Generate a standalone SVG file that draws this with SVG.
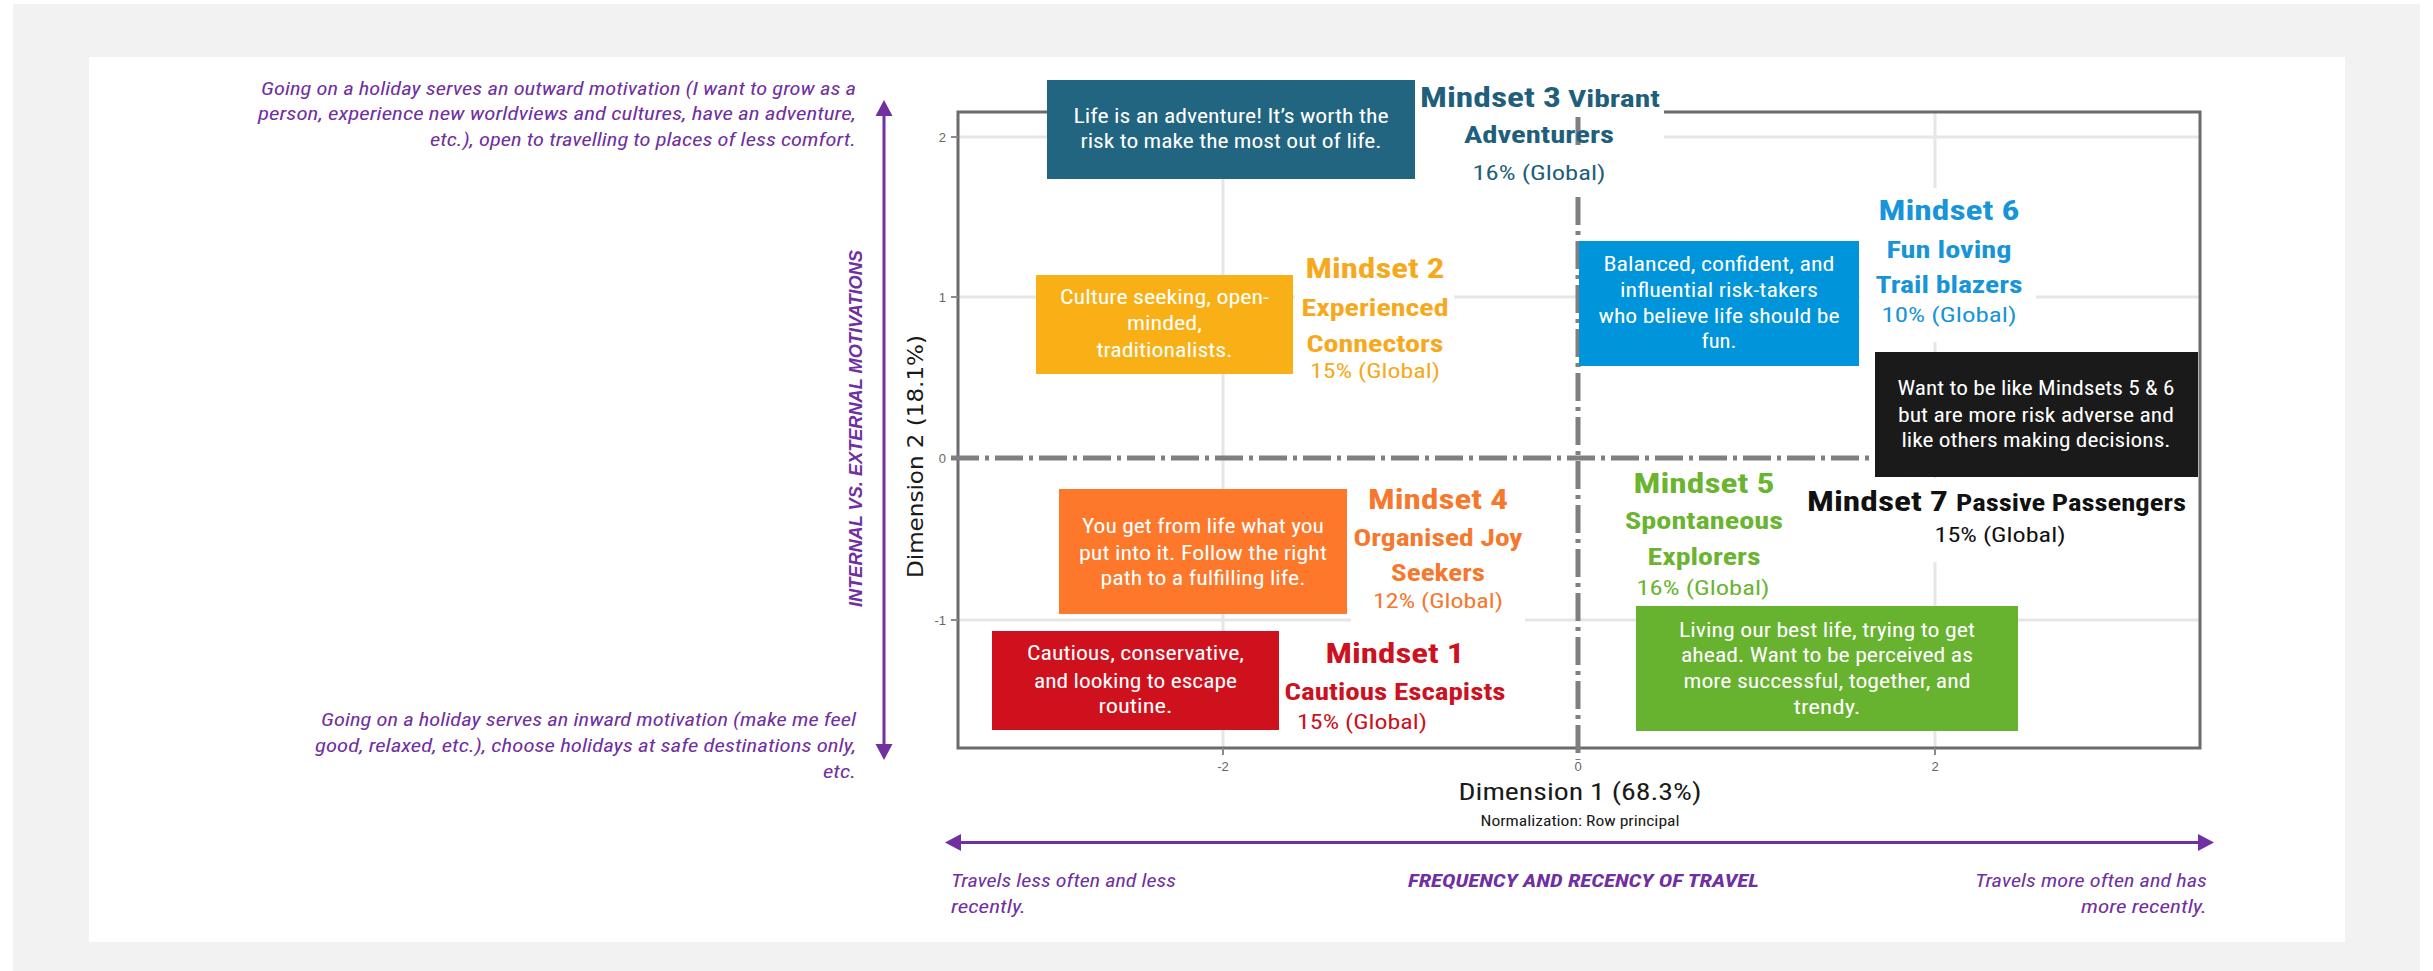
<svg xmlns="http://www.w3.org/2000/svg" width="2433" height="971" viewBox="0 0 2433 971">
<style>
.cond{font-family:"Liberation Sans Narrow","Roboto Condensed","Open Sans","Liberation Sans",sans-serif;}
.box{font-size:20px;fill:#ffffff;text-anchor:middle;}
.big{font-size:27px;font-weight:bold;}
.sub{font-size:23px;font-weight:bold;}
.pct{font-size:20px;}
.mid{text-anchor:middle;}
.purp{fill:#7030a0;font-size:18.5px;font-style:italic;}
.purpb{fill:#7030a0;font-size:19px;font-style:italic;font-weight:bold;}
.grid{stroke:#e6e6e6;stroke-width:3;fill:none;}
.axis{stroke:#7f7f7f;stroke-width:5;fill:none;stroke-dasharray:28 6 4 6;}
.tick{font-family:"Liberation Sans",sans-serif;font-size:13px;fill:#666666;}
.arr{stroke:#7030a0;stroke-width:3;fill:none;marker-start:url(#ah);marker-end:url(#ah);}
.bg{fill:#ffffff;}
</style>
<defs>
<marker id="ah" viewBox="0 -9 16 18" refX="0" refY="0" markerWidth="16" markerHeight="18" markerUnits="userSpaceOnUse" orient="auto-start-reverse">
<path d="M0,-8.5 L16,0 L0,8.5 z" fill="#7030a0"/>
</marker>
</defs>
<rect x="0" y="0" width="2433" height="971" fill="#ffffff"/>
<rect x="13" y="4" width="2407" height="967" fill="#f2f2f2"/>
<rect x="89" y="57" width="2256" height="885" fill="#ffffff"/>

<g id="plot">
<line class="grid" x1="958" y1="137" x2="2200" y2="137"/>
<line class="grid" x1="958" y1="297" x2="2200" y2="297"/>
<line class="grid" x1="958" y1="620" x2="2200" y2="620"/>
<line class="grid" x1="1223" y1="112" x2="1223" y2="748"/>
<line class="grid" x1="1935" y1="112" x2="1935" y2="748"/>
<rect x="958" y="112" width="1242" height="636" fill="none" stroke="#6b6b6b" stroke-width="3"/>
<g stroke="#8a8a8a" stroke-width="2">
<line x1="951" y1="137" x2="958" y2="137"/><line x1="951" y1="297" x2="958" y2="297"/><line x1="951" y1="620" x2="958" y2="620"/>
<line x1="1223" y1="748" x2="1223" y2="755"/><line x1="1935" y1="748" x2="1935" y2="755"/>
</g>
<text class="tick" x="946" y="142" text-anchor="end">2</text>
<text class="tick" x="946" y="302" text-anchor="end">1</text>
<text class="tick" x="946" y="463" text-anchor="end">0</text>
<text class="tick" x="946" y="625" text-anchor="end">-1</text>
<text class="tick" x="1223" y="771" text-anchor="middle">-2</text>
<text class="tick" x="1578" y="771" text-anchor="middle">0</text>
<text class="tick" x="1935" y="771" text-anchor="middle">2</text>
<text font-family="DejaVu Sans,sans-serif" font-size="22" fill="#1a1a1a" transform="translate(923,578) rotate(-90)" textLength="243" lengthAdjust="spacingAndGlyphs">Dimension 2 (18.1%)</text>
<text class="cond mid" font-size="24" fill="#1a1a1a" x="1580" y="800" textLength="243" lengthAdjust="spacingAndGlyphs">Dimension 1 (68.3%)</text>
<text class="cond mid" font-size="15" fill="#1a1a1a" x="1580" y="826" textLength="199" lengthAdjust="spacingAndGlyphs">Normalization: Row principal</text>
</g>

<!-- label backgrounds -->
<rect class="bg" x="1415" y="80" width="249" height="107"/>
<rect class="bg" x="1295" y="255" width="159" height="130"/>
<rect class="bg" x="1860" y="188" width="176" height="154"/>
<rect class="bg" x="1800" y="478" width="390" height="84"/>
<rect class="bg" x="1585" y="464" width="230" height="140"/>
<rect class="bg" x="1351" y="485" width="174" height="138"/>

<g id="connectors">
<line class="axis" x1="951" y1="458" x2="2198" y2="458"/>
<line class="axis" x1="1578" y1="117" x2="1578" y2="150"/>
<line class="axis" x1="1578" y1="197" x2="1578" y2="760"/>
<line class="arr" x1="884" y1="744" x2="884" y2="116"/>
<line class="arr" x1="961" y1="842.5" x2="2198" y2="842.5"/>
</g>

<g id="axis-labels" class="cond">
<text class="purp" text-anchor="end" x="856" y="95" textLength="595" lengthAdjust="spacingAndGlyphs">Going on a holiday serves an outward motivation (I want to grow as a</text>
<text class="purp" text-anchor="end" x="856" y="120" textLength="598" lengthAdjust="spacingAndGlyphs">person, experience new worldviews and cultures, have an adventure,</text>
<text class="purp" text-anchor="end" x="856" y="146" textLength="426" lengthAdjust="spacingAndGlyphs">etc.), open to travelling to places of less comfort.</text>
<text class="purp" text-anchor="end" x="856" y="726" textLength="535" lengthAdjust="spacingAndGlyphs">Going on a holiday serves an inward motivation (make me feel</text>
<text class="purp" text-anchor="end" x="856" y="752" textLength="541" lengthAdjust="spacingAndGlyphs">good, relaxed, etc.), choose holidays at safe destinations only,</text>
<text class="purp" text-anchor="end" x="856" y="778" textLength="33" lengthAdjust="spacingAndGlyphs">etc.</text>
<text font-family="Liberation Sans,Arial,sans-serif" font-size="18" font-weight="bold" font-style="italic" fill="#7030a0" transform="translate(862,607) rotate(-90)" textLength="357" lengthAdjust="spacingAndGlyphs">INTERNAL VS. EXTERNAL MOTIVATIONS</text>
<text class="purp" x="951" y="887" textLength="225" lengthAdjust="spacingAndGlyphs">Travels less often and less</text>
<text class="purp" x="951" y="913" textLength="75" lengthAdjust="spacingAndGlyphs">recently.</text>
<text class="purpb" x="1408" y="887" textLength="351" lengthAdjust="spacingAndGlyphs">FREQUENCY AND RECENCY OF TRAVEL</text>
<text class="purp" text-anchor="end" x="2207" y="887" textLength="232" lengthAdjust="spacingAndGlyphs">Travels more often and has</text>
<text class="purp" text-anchor="end" x="2207" y="913" textLength="126" lengthAdjust="spacingAndGlyphs">more recently.</text>
</g>

<g id="mindset3" class="cond">
<rect x="1047" y="80" width="368" height="99" fill="#216580"/>
<text class="box" x="1231" y="123" textLength="315" lengthAdjust="spacingAndGlyphs">Life is an adventure! It’s worth the</text>
<text class="box" x="1231" y="148" textLength="301" lengthAdjust="spacingAndGlyphs">risk to make the most out of life.</text>
<g fill="#1f5f7b">
<text class="big" x="1420" y="107" textLength="141" lengthAdjust="spacingAndGlyphs">Mindset 3</text>
<text class="sub" x="1568" y="107" textLength="92" lengthAdjust="spacingAndGlyphs">Vibrant</text>
<text class="sub mid" x="1539" y="143" textLength="150" lengthAdjust="spacingAndGlyphs">Adventurers</text>
<text class="pct mid" x="1539" y="180" textLength="133" lengthAdjust="spacingAndGlyphs">16% (Global)</text>
</g>
</g>

<g id="mindset2" class="cond">
<rect x="1036" y="275" width="257" height="99" fill="#f9b016"/>
<text class="box" x="1164.5" y="304" textLength="209" lengthAdjust="spacingAndGlyphs">Culture seeking, open-</text>
<text class="box" x="1164.5" y="330" textLength="75" lengthAdjust="spacingAndGlyphs">minded,</text>
<text class="box" x="1164.5" y="357" textLength="136" lengthAdjust="spacingAndGlyphs">traditionalists.</text>
<g fill="#f6a91c">
<text class="big mid" x="1375" y="278" textLength="139" lengthAdjust="spacingAndGlyphs">Mindset 2</text>
<text class="sub mid" x="1375" y="316" textLength="147" lengthAdjust="spacingAndGlyphs">Experienced</text>
<text class="sub mid" x="1375" y="352" textLength="137" lengthAdjust="spacingAndGlyphs">Connectors</text>
<text class="pct mid" x="1375" y="378" textLength="130" lengthAdjust="spacingAndGlyphs">15% (Global)</text>
</g>
</g>

<g id="mindset6" class="cond">
<rect x="1579" y="241" width="280" height="125" fill="#0094da"/>
<text class="box" x="1719" y="271" textLength="231" lengthAdjust="spacingAndGlyphs">Balanced, confident, and</text>
<text class="box" x="1719" y="297" textLength="198" lengthAdjust="spacingAndGlyphs">influential risk-takers</text>
<text class="box" x="1719" y="323" textLength="241" lengthAdjust="spacingAndGlyphs">who believe life should be</text>
<text class="box" x="1719" y="348" textLength="35" lengthAdjust="spacingAndGlyphs">fun.</text>
<g fill="#1895d8">
<text class="big mid" x="1949" y="220" textLength="141" lengthAdjust="spacingAndGlyphs">Mindset 6</text>
<text class="sub mid" x="1949" y="258" textLength="125" lengthAdjust="spacingAndGlyphs">Fun loving</text>
<text class="sub mid" x="1949" y="293" textLength="147" lengthAdjust="spacingAndGlyphs">Trail blazers</text>
<text class="pct mid" x="1949" y="322" textLength="135" lengthAdjust="spacingAndGlyphs">10% (Global)</text>
</g>
</g>

<g id="mindset7" class="cond">
<rect x="1875" y="352" width="323" height="125" fill="#1a1a1a"/>
<text class="box" x="2036" y="395" textLength="277" lengthAdjust="spacingAndGlyphs">Want to be like Mindsets 5 &amp; 6</text>
<text class="box" x="2036" y="422" textLength="276" lengthAdjust="spacingAndGlyphs">but are more risk adverse and</text>
<text class="box" x="2036" y="447" textLength="269" lengthAdjust="spacingAndGlyphs">like others making decisions.</text>
<g fill="#111111">
<text class="big" x="1807" y="511" textLength="141" lengthAdjust="spacingAndGlyphs">Mindset 7</text>
<text class="sub" x="1956" y="511" textLength="230" lengthAdjust="spacingAndGlyphs">Passive Passengers</text>
<text class="pct mid" x="2000" y="542" textLength="131" lengthAdjust="spacingAndGlyphs">15% (Global)</text>
</g>
</g>

<g id="mindset5" class="cond">
<rect x="1636" y="606" width="382" height="125" fill="#67b22f"/>
<text class="box" x="1827" y="637" textLength="296" lengthAdjust="spacingAndGlyphs">Living our best life, trying to get</text>
<text class="box" x="1827" y="662" textLength="292" lengthAdjust="spacingAndGlyphs">ahead. Want to be perceived as</text>
<text class="box" x="1827" y="688" textLength="287" lengthAdjust="spacingAndGlyphs">more successful, together, and</text>
<text class="box" x="1827" y="714" textLength="67" lengthAdjust="spacingAndGlyphs">trendy.</text>
<g fill="#6ab430">
<text class="big mid" x="1704" y="493" textLength="141" lengthAdjust="spacingAndGlyphs">Mindset 5</text>
<text class="sub mid" x="1704" y="529" textLength="158" lengthAdjust="spacingAndGlyphs">Spontaneous</text>
<text class="sub mid" x="1704" y="565" textLength="113" lengthAdjust="spacingAndGlyphs">Explorers</text>
<text class="pct mid" x="1703" y="595" textLength="133" lengthAdjust="spacingAndGlyphs">16% (Global)</text>
</g>
</g>

<g id="mindset4" class="cond">
<rect x="1059" y="489" width="288" height="125" fill="#fd782a"/>
<text class="box" x="1203" y="533" textLength="242" lengthAdjust="spacingAndGlyphs">You get from life what you</text>
<text class="box" x="1203" y="559.5" textLength="248" lengthAdjust="spacingAndGlyphs">put into it. Follow the right</text>
<text class="box" x="1203" y="585" textLength="205" lengthAdjust="spacingAndGlyphs">path to a fulfilling life.</text>
<g fill="#f6782d">
<text class="big mid" x="1438" y="509" textLength="140" lengthAdjust="spacingAndGlyphs">Mindset 4</text>
<text class="sub mid" x="1438" y="546" textLength="169" lengthAdjust="spacingAndGlyphs">Organised Joy</text>
<text class="sub mid" x="1438" y="581" textLength="94" lengthAdjust="spacingAndGlyphs">Seekers</text>
<text class="pct mid" x="1438" y="608" textLength="130" lengthAdjust="spacingAndGlyphs">12% (Global)</text>
</g>
</g>

<g id="mindset1" class="cond">
<rect x="992" y="631" width="287" height="99" fill="#cf111e"/>
<text class="box" x="1135.5" y="660" textLength="217" lengthAdjust="spacingAndGlyphs">Cautious, conservative,</text>
<text class="box" x="1135.5" y="688" textLength="203" lengthAdjust="spacingAndGlyphs">and looking to escape</text>
<text class="box" x="1135.5" y="713" textLength="74" lengthAdjust="spacingAndGlyphs">routine.</text>
<g fill="#cc1120">
<text class="big mid" x="1395" y="663" textLength="139" lengthAdjust="spacingAndGlyphs">Mindset 1</text>
<text class="sub mid" x="1395" y="700" textLength="221" lengthAdjust="spacingAndGlyphs">Cautious Escapists</text>
<text class="pct mid" x="1362" y="729" textLength="130" lengthAdjust="spacingAndGlyphs">15% (Global)</text>
</g>
</g>
</svg>
